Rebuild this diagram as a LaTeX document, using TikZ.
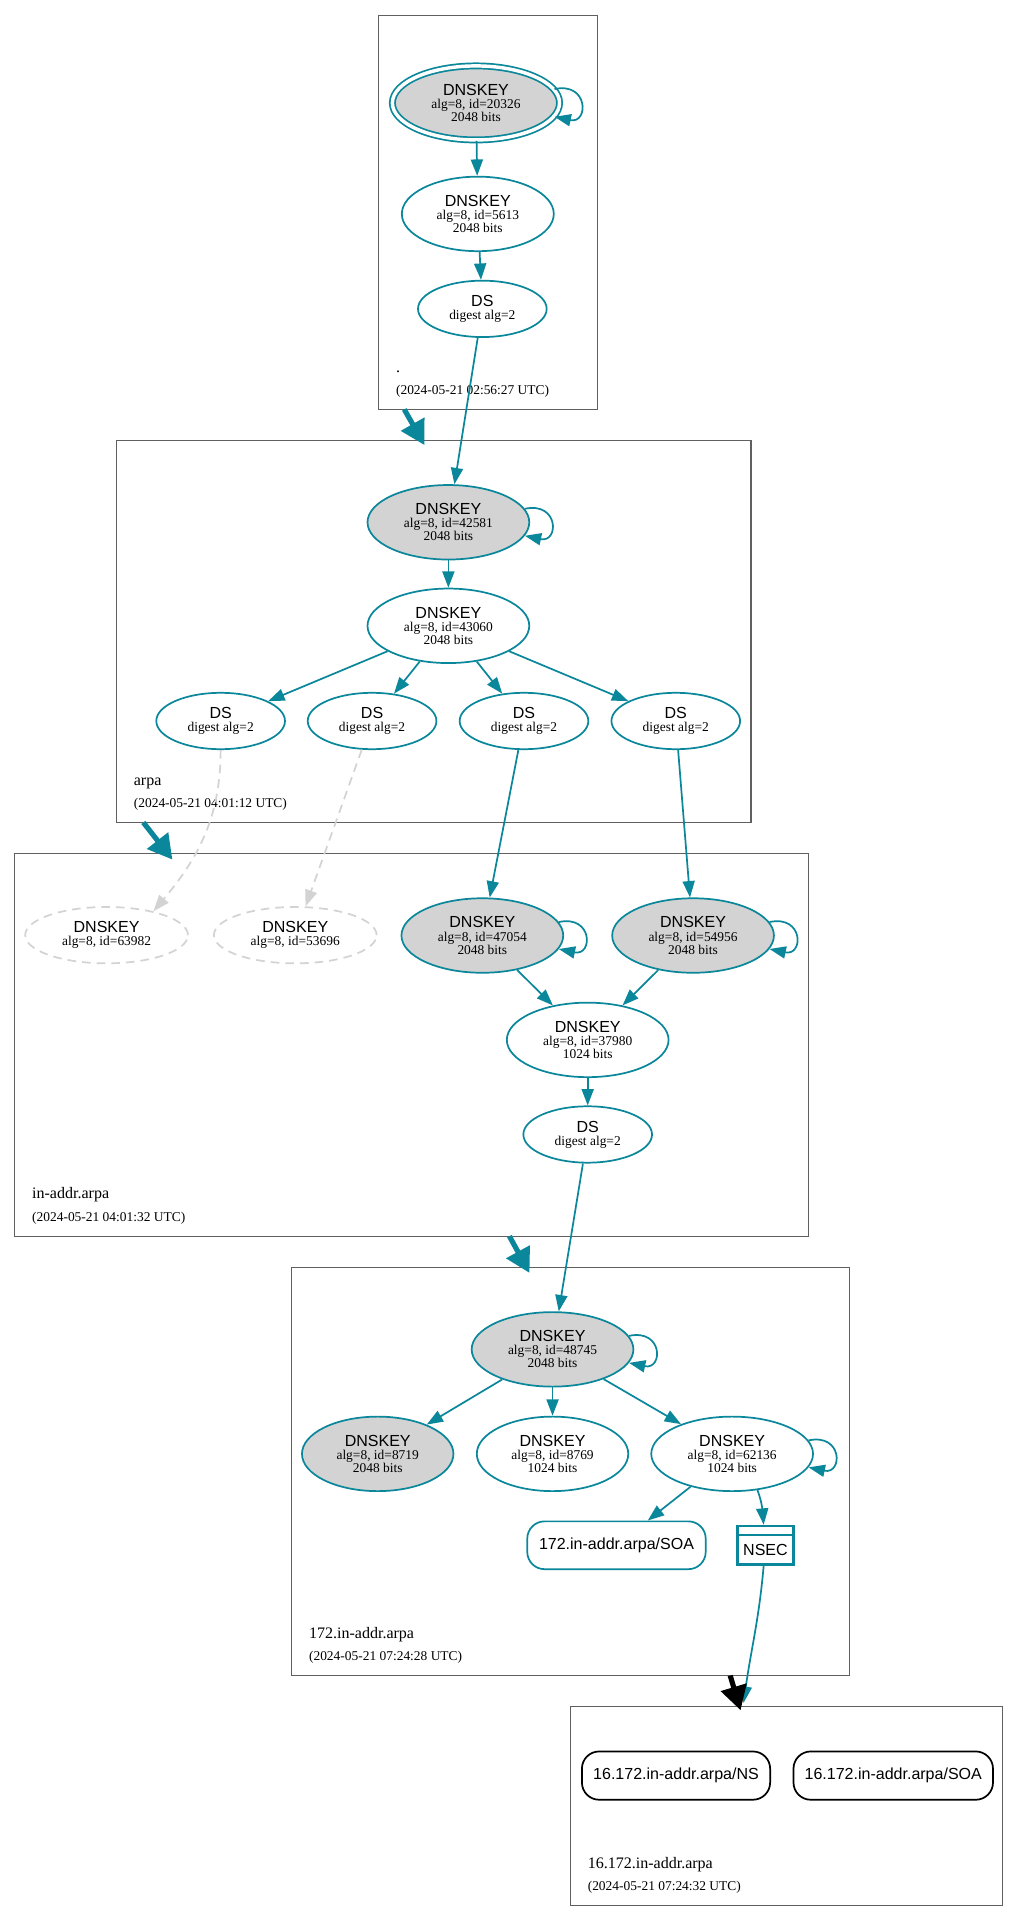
\documentclass[tikz,border=0pt]{standalone}
\usepackage{fontspec}
\setmainfont{Liberation Serif}
\newfontfamily\hvfont{Liberation Sans}
\usetikzlibrary{shapes.geometric,arrows.meta}
\definecolor{dnsteal}{HTML}{0A879A}
\definecolor{dnsgray}{HTML}{D3D3D3}
\definecolor{zonegray}{HTML}{606060}
\newcommand{\ttl}[1]{{\hvfont\fontsize{9.3pt}{7.6pt}\selectfont #1}}
\newcommand{\keylbl}[2]{\ttl{DNSKEY}\\alg=8, id=#1\\#2 bits}
\newcommand{\dslbl}{\ttl{DS}\\digest alg=2}
\begin{document}
\begin{tikzpicture}[x=0.025cm,y=-0.025cm,
  rr/.style={ellipse,draw=dnsteal,line width=1pt,inner sep=0pt,align=center,font=\fontsize{7.8pt}{7.6pt}\selectfont},
  ksk/.style={rr,fill=dnsgray,minimum width=3.3cm,minimum height=1.52cm},
  zsk/.style={rr,minimum width=3.3cm,minimum height=1.52cm},
  dsnode/.style={rr,minimum width=2.625cm,minimum height=1.15cm},
  gone/.style={rr,draw=dnsgray,dash pattern=on 5pt off 3.5pt,minimum width=3.32cm,minimum height=1.15cm},
  rrset/.style={draw,rounded corners=10pt,line width=1pt,inner sep=0pt,font=\hvfont\fontsize{9.3pt}{11pt}\selectfont},
  zone/.style={draw=zonegray,line width=0.6pt},
  ed/.style={draw=dnsteal,line width=1pt,-{Triangle[length=9.5pt,width=7pt]}},
  ded/.style={draw=dnsgray,line width=1pt,dash pattern=on 5pt off 3.5pt,-{Triangle[length=9.5pt,width=7pt]}},
  dlg/.style={line width=3pt,-{Triangle[length=14pt,width=15pt]}},
  zlbl/.style={anchor=base west,inner sep=0pt,font=\fontsize{9.3pt}{11pt}\selectfont},
  zdate/.style={anchor=base west,inner sep=0pt,font=\fontsize{7.8pt}{9pt}\selectfont}]
\useasboundingbox (0,0) rectangle (832,1568);
%
\draw[zone](309,12.5) rectangle (488,334.2);
\draw[zone](95,359.2) rectangle (613,671.3);
\draw[zone](12,696.6) rectangle (660,1009);
\draw[zone](238,1034.7) rectangle (693,1367.6);
\draw[zone](466,1393) rectangle (818.4,1555.3);
%
\node[zlbl](lr) at (323,303.7) {.};
\node[zdate](dr) at (323,322.2) {(2024-05-21 02:56:27 UTC)};
\node[zlbl](la) at (109,640.8) {arpa};
\node[zdate](da) at (109,659.3) {(2024-05-21 04:01:12 UTC)};
\node[zlbl](li) at (26,978.5) {in-addr.arpa};
\node[zdate](di) at (26,997) {(2024-05-21 04:01:32 UTC)};
\node[zlbl](l172) at (252,1337.1) {172.in-addr.arpa};
\node[zdate](d172) at (252,1355.6) {(2024-05-21 07:24:28 UTC)};
\node[zlbl](l16) at (479.5,1524.8) {16.172.in-addr.arpa};
\node[zdate](d16) at (479.5,1543.3) {(2024-05-21 07:24:32 UTC)};
%
\node[ksk,double=white,double distance=2pt,minimum width=3.41cm,minimum height=1.51cm](k20326) at (388.5,84) {\keylbl{20326}{2048}};
\node[zsk,minimum width=3.1cm](k5613) at (390,174.6) {\keylbl{5613}{2048}};
\node[dsnode](dsr) at (393.7,252.1) {\dslbl};
%
\node[ksk](k42581) at (366,426.3) {\keylbl{42581}{2048}};
\node[zsk](k43060) at (366,510.8) {\keylbl{43060}{2048}};
\node[dsnode](ds1) at (180.1,588.5) {\dslbl};
\node[dsnode](ds2) at (303.7,588.5) {\dslbl};
\node[dsnode](ds3) at (427.7,588.5) {\dslbl};
\node[dsnode](ds4) at (551.6,588.5) {\dslbl};
%
\node[gone](kd1) at (87,763.3) {\ttl{DNSKEY}\\alg=8, id=63982};
\node[gone](kd2) at (241,763.3) {\ttl{DNSKEY}\\alg=8, id=53696};
\node[ksk](k47054) at (393.7,763.6) {\keylbl{47054}{2048}};
\node[ksk](k54956) at (565.7,763.6) {\keylbl{54956}{2048}};
\node[zsk](k37980) at (479.7,848.8) {\keylbl{37980}{1024}};
\node[dsnode](dsi) at (479.7,926) {\dslbl};
%
\node[ksk](k48745) at (451,1101.4) {\keylbl{48745}{2048}};
\node[ksk,minimum width=3.09cm](k8719) at (308.3,1186.7) {\keylbl{8719}{2048}};
\node[zsk,minimum width=3.09cm](k8769) at (451,1186.7) {\keylbl{8769}{1024}};
\node[zsk](k62136) at (597.6,1186.7) {\keylbl{62136}{1024}};
\node[rrset,draw=dnsteal,minimum width=3.64cm,minimum height=0.975cm](soa4) at (503.2,1261.3) {172.in-addr.arpa/SOA};
\node[draw=dnsteal,line width=1.5pt,minimum width=1.14cm,minimum height=0.785cm,inner sep=0pt,text height=12pt,text depth=0.5pt,font=\hvfont\fontsize{9.3pt}{11pt}\selectfont](nsec) at (624.8,1261.3) {NSEC};
\draw[draw=dnsteal,line width=1.5pt]([yshift=-6pt]nsec.north west)--([yshift=-6pt]nsec.north east);
%
\node[rrset,minimum width=3.84cm,minimum height=0.985cm](ns16) at (551.8,1449.3) {16.172.in-addr.arpa/NS};
\node[rrset,minimum width=4.07cm,minimum height=0.985cm](soa16) at (729.1,1449.3) {16.172.in-addr.arpa/SOA};
%
\foreach \k in {k20326,k42581,k47054,k54956,k48745,k62136}
  \draw[ed](\k.10) .. controls +(28,-6) and +(28,6) .. (\k.-10);
%
\draw[ed](k20326)--(k5613);
\draw[ed](k5613)--(dsr);
\draw[ed](dsr)--(k42581);
\draw[ed](k42581)--(k43060);
\foreach \d in {ds1,ds2,ds3,ds4}
  \draw[ed](k43060)--(\d);
\draw[ded](ds1) to[out=-90,in=50] (kd1.27);
\draw[ded](ds2)--(kd2);
\draw[ed](ds3)--(k47054);
\draw[ed](ds4)--(k54956);
\draw[ed](k47054)--(k37980);
\draw[ed](k54956)--(k37980);
\draw[ed](k37980)--(dsi);
\draw[ed](dsi)--(k48745);
\draw[ed](k48745)--(k8719);
\draw[ed](k48745)--(k8769);
\draw[ed](k48745)--(k62136);
\draw[ed](k62136)--(soa4);
\draw[ed](k62136.-55) to[out=-70,in=95] (nsec);
\coordinate(z16in) at (606.9,1390);
\draw[ed](nsec) to[out=-95,in=82] (z16in);
%
\coordinate(r2a1) at (330,334.2);
\coordinate(r2a2) at (346.5,363.3);
\coordinate(a2i1) at (117,671.3);
\coordinate(a2i2) at (140.7,701.6);
\coordinate(i2c1) at (415.8,1009);
\coordinate(i2c2) at (432.2,1039);
\coordinate(c2s1) at (596,1367.6);
\coordinate(c2s2) at (604.5,1396);
\draw[dlg,draw=dnsteal,fill=dnsteal](r2a1)--(r2a2);
\draw[dlg,draw=dnsteal,fill=dnsteal](a2i1)--(a2i2);
\draw[dlg,draw=dnsteal,fill=dnsteal](i2c1)--(i2c2);
\draw[dlg,draw=black,fill=black](c2s1)--(c2s2);
\end{tikzpicture}
\end{document}
